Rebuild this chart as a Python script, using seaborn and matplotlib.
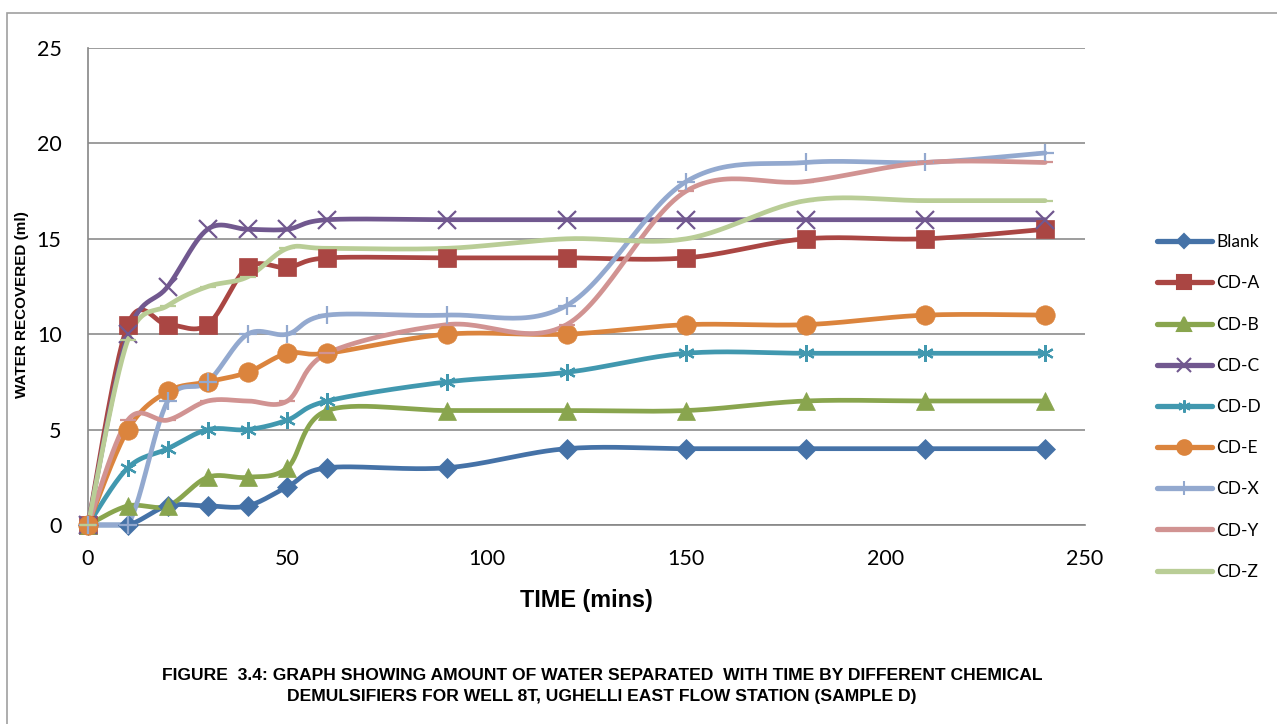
import numpy as np
import pandas as pd
import seaborn as sns
import matplotlib
matplotlib.use("Agg")
import matplotlib.pyplot as plt
from matplotlib.lines import Line2D
from matplotlib.patches import Rectangle

# ---------------- data ----------------
time_min = [0, 10, 20, 30, 40, 50, 60, 90, 120, 150, 180, 210, 240]
blank = [0, 0, 1, 1, 1, 2, 3, 3, 4, 4, 4, 4, 4]
cd_a = [0, 10.5, 10.5, 10.5, 13.5, 13.5, 14, 14, 14, 14, 15, 15, 15.5]
cd_b = [0, 1, 1, 2.5, 2.5, 3, 6, 6, 6, 6, 6.5, 6.5, 6.5]
cd_c = [0, 10, 12.5, 15.5, 15.5, 15.5, 16, 16, 16, 16, 16, 16, 16]
cd_d = [0, 3, 4, 5, 5, 5.5, 6.5, 7.5, 8, 9, 9, 9, 9]
cd_e = [0, 5, 7, 7.5, 8, 9, 9, 10, 10, 10.5, 10.5, 11, 11]
cd_x = [0, 0, 6.5, 7.5, 10, 10, 11, 11, 11.5, 18, 19, 19, 19.5]
cd_y = [0, 5.5, 5.5, 6.5, 6.5, 6.5, 9, 10.5, 10.5, 17.5, 18, 19, 19]
cd_z = [0, 9.7, 11.5, 12.5, 13, 14.5, 14.5, 14.5, 15, 15, 17, 17, 17]

series_names = ["Blank", "CD-A", "CD-B", "CD-C", "CD-D", "CD-E", "CD-X", "CD-Y", "CD-Z"]
series_vals = [blank, cd_a, cd_b, cd_c, cd_d, cd_e, cd_x, cd_y, cd_z]

colors = ["#4572A7", "#AA4643", "#89A54E", "#71588F", "#4198AF",
          "#DB843D", "#93A9CF", "#D19392", "#B9CD96"]
markers = ["D", "s", "^", "x", (6, 2, 0), "o", "+", "_", "_"]
msizes = [10, 13, 13, 13, 12, 14, 13, 11, 11]


# Excel-like smoothing (Catmull-Rom Bezier) computed in screen-like units
def smooth(xs, ys, yscale=4.78, n=30):
    x = np.asarray(xs, float)
    y = np.asarray(ys, float) * yscale
    P = np.column_stack([x, y])
    out = [P[0]]
    m = len(P)
    for i in range(m - 1):
        p0 = P[i - 1] if i > 0 else P[i]
        p1 = P[i]
        p2 = P[i + 1]
        p3 = P[i + 2] if i + 2 < m else P[i + 1]
        c1 = p1 + (p2 - p0) / 6.0
        c2 = p2 - (p3 - p1) / 6.0
        t = np.linspace(0, 1, n)[1:, None]
        B = ((1 - t) ** 3) * p1 + 3 * ((1 - t) ** 2) * t * c1 + 3 * (1 - t) * t ** 2 * c2 + t ** 3 * p2
        out.extend(B)
    out = np.array(out)
    return out[:, 0], np.maximum(out[:, 1] / yscale, 0)


sns.set_theme(style="white")
plt.rcParams['font.family'] = ['Lato', 'DejaVu Sans']
plt.rcParams['text.color'] = 'black'

fig = plt.figure(figsize=(12.77, 7.24), dpi=100)
ax = fig.add_axes([88 / 1277, 1 - 525 / 724, (1085 - 88) / 1277, (525 - 48) / 724])

for name, vals, col, mk, ms in zip(series_names, series_vals, colors, markers, msizes):
    sx, sy = smooth(time_min, vals)
    sns.lineplot(x=sx, y=sy, ax=ax, color=col, lw=3.4, sort=False,
                 estimator=None, clip_on=False, zorder=3)
    mew = 1.6 if mk in ("x", "+", "_") or isinstance(mk, tuple) else 0.5
    ax.plot(time_min, vals, linestyle="none", marker=mk, markersize=ms, color=col,
            markeredgecolor=col, markeredgewidth=mew, clip_on=False, zorder=4)

ax.set_xlim(0, 250)
ax.set_ylim(0, 25)
ax.set_xticks([0, 50, 100, 150, 200, 250])
ax.set_yticks([0, 5, 10, 15, 20, 25])
ax.tick_params(axis="both", labelsize=15.5, labelcolor="#000000", color="#868686",
               length=6, width=1.2, direction="out")
ax.tick_params(axis="y", pad=13)
ax.tick_params(axis="x", pad=11)
ax.yaxis.grid(True, color="#8c8c8c", lw=1.2)
ax.xaxis.grid(False)
for s in ["top", "right"]:
    ax.spines[s].set_visible(False)
for s in ["left", "bottom"]:
    ax.spines[s].set_color("#868686")
    ax.spines[s].set_linewidth(1.2)

ax.set_xlabel("TIME (mins)", fontsize=16.8, fontweight="bold", color="black",
              family=["Liberation Sans", "DejaVu Sans"])
ax.set_ylabel("WATER RECOVERED (ml)", fontsize=11, fontweight="bold", color="black",
              family=["Liberation Sans", "DejaVu Sans"])
ax.xaxis.label.set_va("center")
ax.yaxis.label.set_va("center")
ax.xaxis.set_label_coords((586 - 88) / 997, (525 - 601) / 477)
ax.yaxis.set_label_coords((22 - 88) / 997, (525 - 305) / 477)

handles = [Line2D([0], [0], color=c, lw=3.8, marker=(m if m != "_" else None),
                  markersize=ms * 0.75, markeredgecolor=c, markeredgewidth=1.5,
                  solid_capstyle="round")
           for c, m, ms in zip(colors, markers, msizes)]
leg = fig.legend(handles, series_names, loc="center left",
                 bbox_to_anchor=(1141 / 1277, 1 - 407 / 724),
                 frameon=False, fontsize=12.5, handlelength=3.2, labelspacing=1.45,
                 handletextpad=0.25)
for t in leg.get_texts():
    t.set_color("black")

cap_font = ["Liberation Sans", "DejaVu Sans"]
fig.text(602 / 1277, 1 - 675 / 724,
         "FIGURE  3.4: GRAPH SHOWING AMOUNT OF WATER SEPARATED  WITH TIME BY DIFFERENT CHEMICAL",
         ha="center", va="center", fontsize=12.6, fontweight="bold", family=cap_font, color="black")
fig.text(602 / 1277, 1 - 697 / 724,
         "DEMULSIFIERS FOR WELL 8T, UGHELLI EAST FLOW STATION (SAMPLE D)",
         ha="center", va="center", fontsize=12.6, fontweight="bold", family=cap_font, color="black")

fig.patches.append(Rectangle((7 / 1277, -0.1), 2.0, 0.1 + (1 - 13 / 724), transform=fig.transFigure,
                             fill=False, edgecolor="#a0a0a0", lw=1.2))

fig.savefig("out.png", dpi=100)
